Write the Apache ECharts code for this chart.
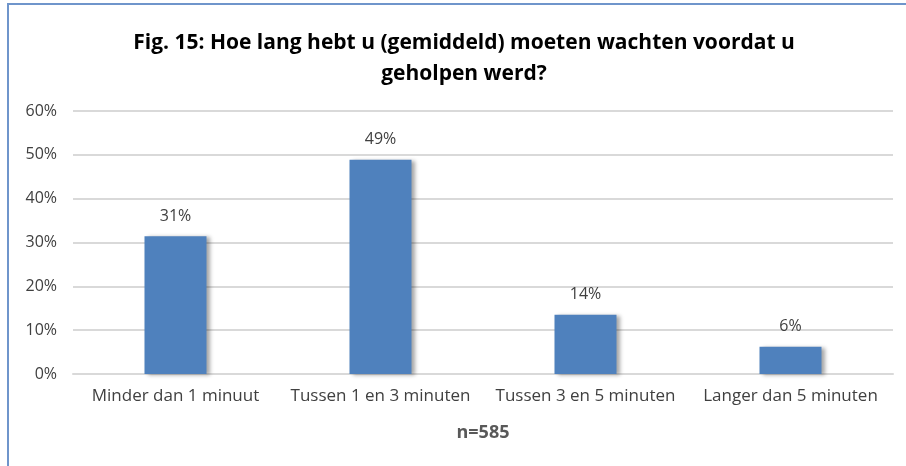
<!DOCTYPE html>
<html>
<head>
<meta charset="utf-8">
<script src="https://cdn.jsdelivr.net/npm/echarts@6/dist/echarts.min.js"></script>
<style>
  html, body { margin: 0; background: #fff; overflow: hidden; }
  #chart { width: 906px; height: 466px; }
</style>
</head>
<body>
<div id="chart"></div>
<script>
// waiting time categories
const categories = ['Minder dan 1 minuut', 'Tussen 1 en 3 minuten', 'Tussen 3 en 5 minuten', 'Langer dan 5 minuten']
// percentages
const values = [31.4, 48.9, 13.5, 6.2]
const yTicks = [0, 10, 20, 30, 40, 50, 60]

let myChart = echarts.init(document.getElementById('chart'))
myChart.setOption({
  animation: false,
  // frame of the chart area (top and left edges visible)
  graphic: [
    { type: 'line', shape: { x1: 7, y1: 4, x2: 906, y2: 4 }, style: { stroke: '#6f95cb', lineWidth: 2 } },
    { type: 'line', shape: { x1: 8, y1: 3, x2: 8, y2: 466 }, style: { stroke: '#6f95cb', lineWidth: 2 } }
  ],
  title: {
    text: 'Fig. 15: Hoe lang hebt u (gemiddeld) moeten wachten voordat u\ngeholpen werd?',
    left: 459,
    top: 23,
    textAlign: 'center',
    textStyle: {
      fontFamily: 'Open Sans',
      fontWeight: 'bold',
      fontSize: 21,
      lineHeight: 31,
      color: '#000'
    }
  },
  grid: {
    left: 73,
    right: 13,
    top: 111,
    bottom: 92
  },
  xAxis: {
    type: 'category',
    data: categories,
    name: 'n=585',
    nameLocation: 'middle',
    nameGap: 50,
    nameTextStyle: {
      fontFamily: 'Open Sans',
      fontWeight: 'bold',
      fontSize: 18,
      color: '#595959'
    },
    axisTick: { show: false },
    axisLine: { lineStyle: { color: '#d9d9d9', width: 2 } },
    axisLabel: {
      interval: 0,
      fontFamily: 'Open Sans',
      fontSize: 17,
      color: '#404040',
      margin: 14
    }
  },
  yAxis: {
    type: 'value',
    min: yTicks[0],
    max: yTicks[yTicks.length - 1],
    interval: 10,
    axisLine: { show: false },
    axisTick: { show: false },
    splitLine: { lineStyle: { color: '#d9d9d9', width: 2 } },
    axisLabel: {
      fontFamily: 'Open Sans',
      fontSize: 16,
      color: '#404040',
      margin: 16,
      formatter: v => v + '%'
    }
  },
  series: [{
    type: 'bar',
    data: values,
    barWidth: 62,
    itemStyle: {
      color: '#4f81bd',
      shadowColor: 'rgba(0,0,0,0.35)',
      shadowBlur: 4,
      shadowOffsetX: 3,
      shadowOffsetY: 1
    },
    label: {
      show: true,
      position: 'top',
      distance: 12,
      fontFamily: 'Open Sans',
      fontSize: 16,
      color: '#404040',
      formatter: p => Math.round(p.value) + '%'
    }
  }]
})
</script>
</body>
</html>
